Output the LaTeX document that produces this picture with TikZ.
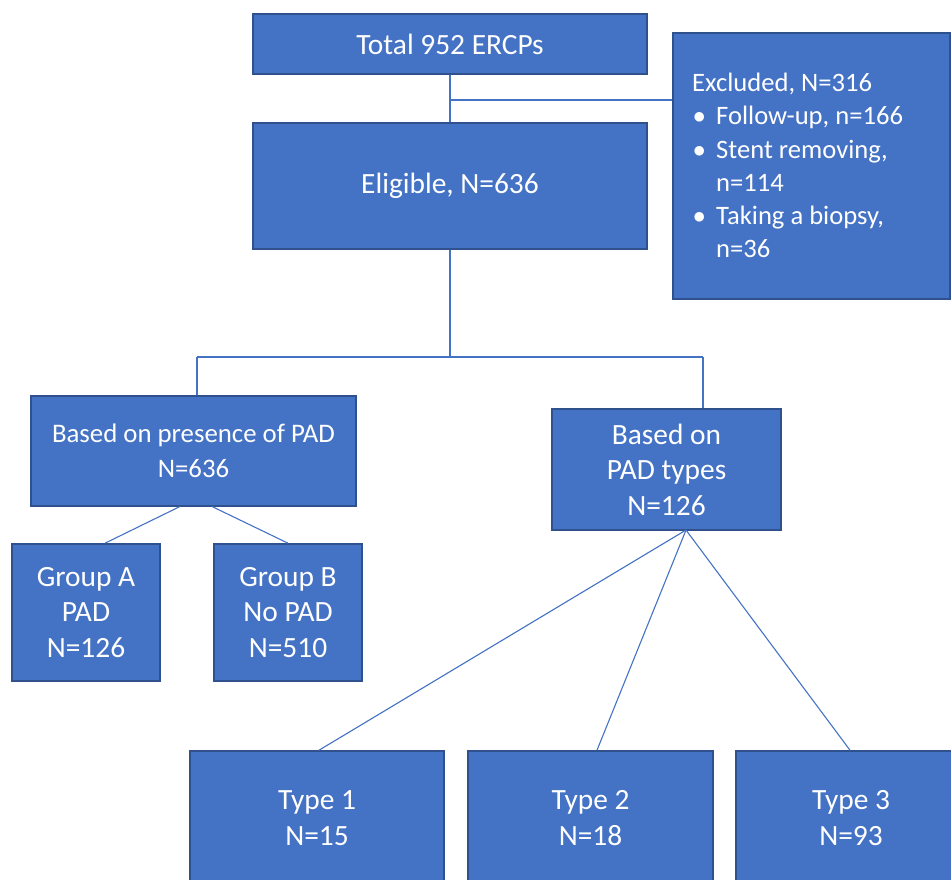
\documentclass[tikz,border=0pt]{standalone}
\usepackage{fontspec}
\setmainfont{Carlito}
\definecolor{boxfill}{HTML}{4472C4}
\definecolor{boxline}{HTML}{2F528F}
\begin{document}
\begin{tikzpicture}[x=1pt,y=-1pt,
  box/.style={draw=boxline, fill=boxfill, line width=1.6pt, text=white,
    align=center, inner sep=0pt, font=\fontsize{29.4}{35.5}\selectfont},
  smallbox/.style={box, font=\fontsize{26.8}{35}\selectfont},
  link/.style={draw=boxfill, line width=1.1pt}]
\useasboundingbox (0,0) rectangle (951,879);
\begin{scope}
\clip (0,0) rectangle (951,879);
% boxes
\node[box, minimum width=394pt, minimum height=60pt] (total) at (450,44) {Total 952 ERCPs};
\node[box, minimum width=277pt, minimum height=266pt] (excl) at (811.5,166) {};
\node[anchor=west, text=white, inner sep=0pt, font=\fontsize{26.6}{33.3}\selectfont] (excltext) at (692,168)
  {\begin{tabular}{@{}l@{}l@{}}
   \multicolumn{2}{@{}l@{}}{Excluded, N=316}\\
   \makebox[24pt][l]{\hspace{1pt}\raisebox{1pt}{$\bullet$}} & Follow-up, n=166\\
   \makebox[24pt][l]{\hspace{1pt}\raisebox{1pt}{$\bullet$}} & Stent removing,\\
    & n=114\\
   \makebox[24pt][l]{\hspace{1pt}\raisebox{1pt}{$\bullet$}} & Taking a biopsy,\\
    & n=36
  \end{tabular}};
\node[box, minimum width=394pt, minimum height=126pt] (elig) at (450,186) {Eligible, N=636};
\node[smallbox, minimum width=325pt, minimum height=110pt] (pres) at (193.5,451) {Based on presence of PAD\\N=636};
\node[box, minimum width=229pt, minimum height=121pt] (types) at (666.5,469.5) {Based on\\PAD types\\N=126};
\node[box, minimum width=148pt, minimum height=137pt] (ga) at (86,612.5) {Group A\\PAD\\N=126};
\node[box, minimum width=148pt, minimum height=137pt] (gb) at (288,612.5) {Group B\\No PAD\\N=510};
\node[box, minimum width=254pt, minimum height=134pt] (t1) at (317,818) {Type 1\\N=15};
\node[box, minimum width=245pt, minimum height=134pt] (t2) at (590.5,818) {Type 2\\N=18};
\node[box, minimum width=230pt, minimum height=134pt] (t3) at (851,818) {Type 3\\N=93};
% junction coordinates
\coordinate (j1) at (450,100);
\coordinate (bl) at (197,357);
\coordinate (br) at (703,357);
\coordinate (bm) at (450,357);
\coordinate (pa) at (180,506.5);
\coordinate (pb) at (212,506.5);
\coordinate (tp) at (686,530);
% connectors
\draw[link] (total.south) -- (elig.north);
\draw[link] (j1) -- (j1 -| excl.west);
\draw[link] (elig.south) -- (bm);
\draw[link] (bl) -- (br);
\draw[link] (bl) -- (bl |- pres.north);
\draw[link] (br) -- (br |- types.north);
\draw[link] (pa) -- (ga.north -| 105,0);
\draw[link] (pb) -- (gb.north);
\draw[link] (tp) -- (t1.north -| 319,0);
\draw[link] (tp) -- (t2.north -| 597,0);
\draw[link] (tp) -- (t3.north -| 850,0);
\end{scope}
\end{tikzpicture}
\end{document}
